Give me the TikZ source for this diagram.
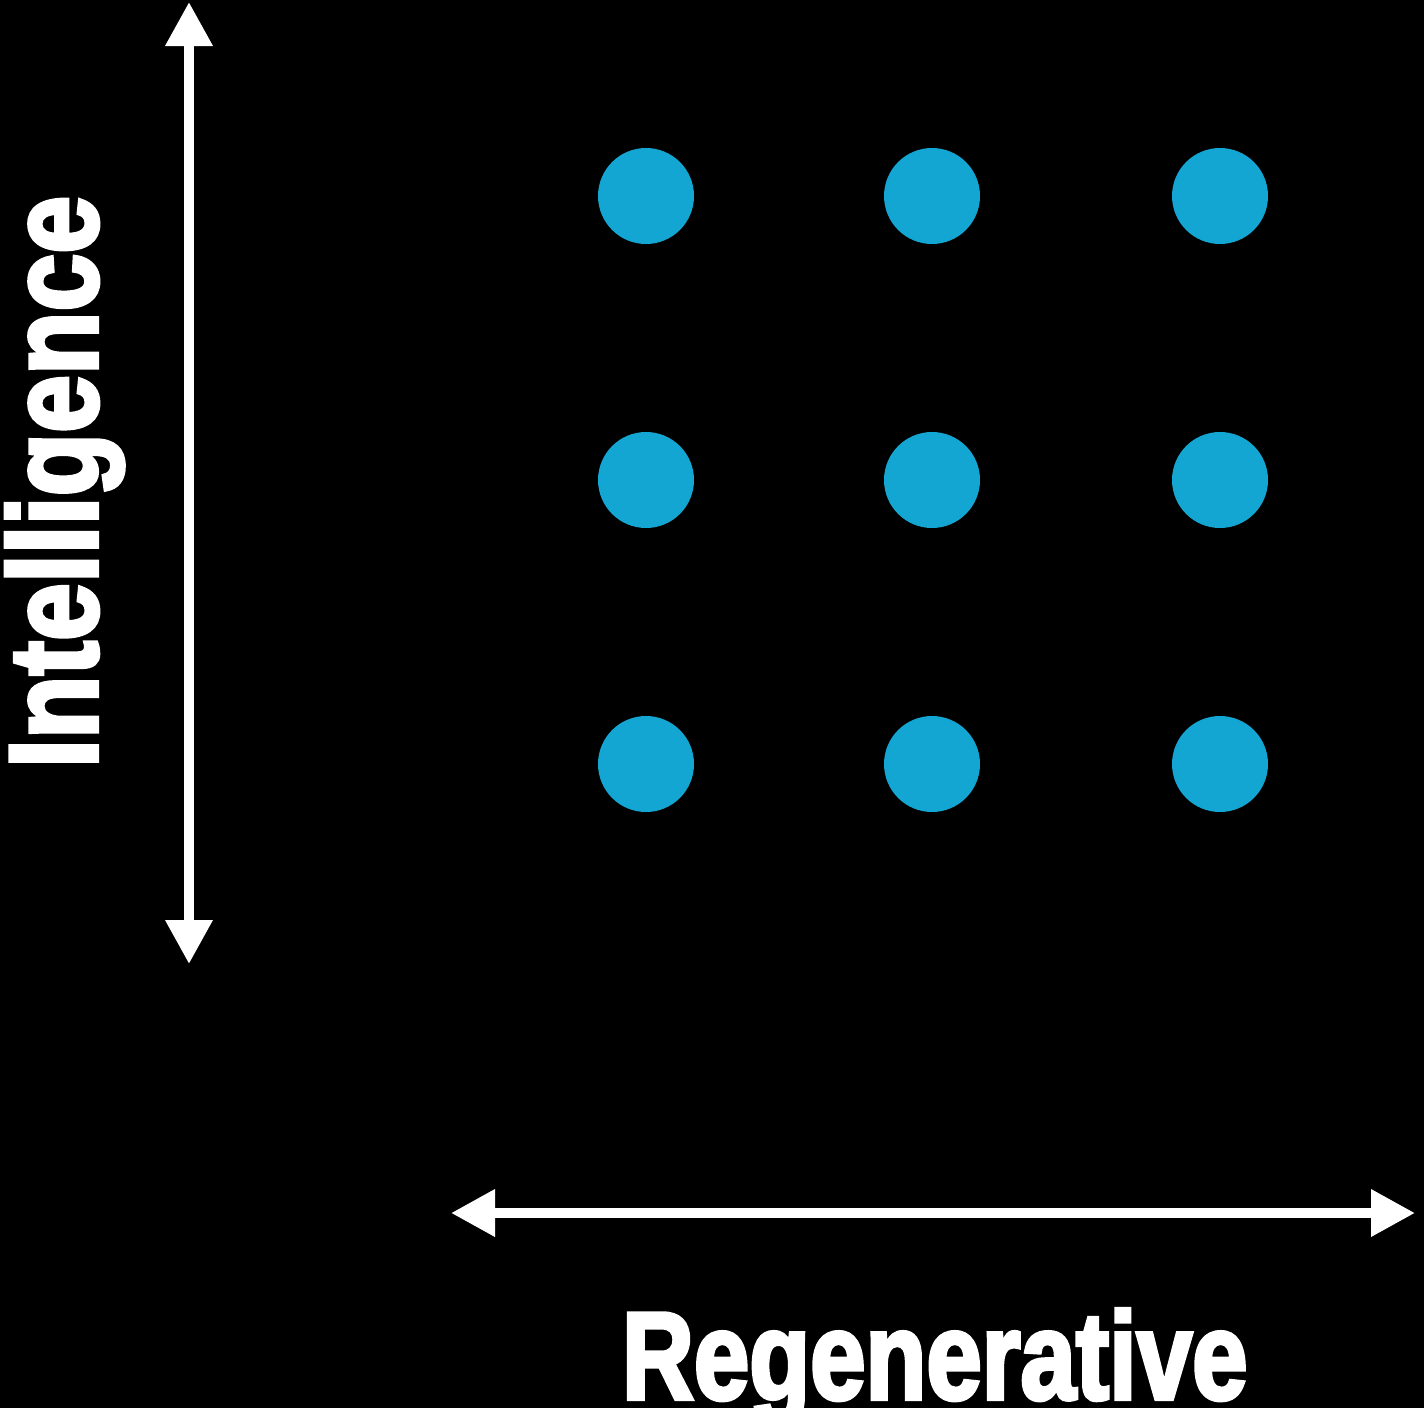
\documentclass[tikz,border=0pt]{standalone}
\usepackage{fontspec}
\usetikzlibrary{arrows.meta}
\newfontface\heavyface{Liberation Sans Bold}[FakeBold=3.5]
\definecolor{dotblue}{RGB}{20,166,210}
\tikzset{
  axisline/.style={draw=white, line width=10pt,
    {Triangle[length=44pt,width=45pt]}-{Triangle[length=44pt,width=45pt]}},
  dotnode/.style={circle, fill=dotblue, minimum size=96pt, inner sep=0pt},
  axislabel/.style={text=white, inner sep=0pt, outer sep=0pt}
}
\begin{document}
\begin{tikzpicture}[x=1pt, y=-1pt]
  \fill[black] (0,0) rectangle (1424,1408);
  \useasboundingbox (0,0) rectangle (1424,1408);
  % axes
  \coordinate (vtop) at (189,2);
  \coordinate (vbot) at (189,964);
  \coordinate (hleft) at (451,1213);
  \coordinate (hright) at (1415,1213);
  \draw[axisline] (vbot) -- (vtop);
  \draw[axisline] (hleft) -- (hright);
  % dots
  \foreach \i/\x in {1/646,2/932,3/1220}{
    \foreach \j/\y in {1/196,2/480,3/764}{
      \node[dotnode] (d\i\j) at (\x,\y) {};
    }
  }
  % labels
  \node[axislabel, anchor=base west] (xlab) at (622,1399)
    {\resizebox{625pt}{90pt}{\heavyface Regenerative}};
  \node[axislabel, anchor=base west, rotate=90] (ylab) at (97,768)
    {\resizebox{572pt}{91pt}{\heavyface Intelligence}};
\end{tikzpicture}
\end{document}
